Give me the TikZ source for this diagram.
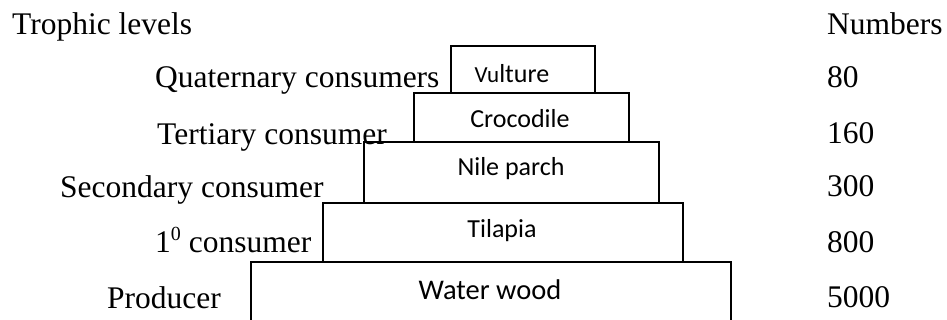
\documentclass[tikz,border=0pt]{standalone}
\usepackage{fontspec}
\setmainfont{Liberation Serif}
\newfontfamily\calibri{Carlito}
\usetikzlibrary{positioning}

\begin{document}
\begin{tikzpicture}[x=1pt, y=-1pt,
    tier/.style={draw, line width=1.9pt, rectangle, inner sep=0pt, anchor=north west},
    level/.style={anchor=base west, inner sep=0pt, font=\fontsize{31.5}{36}\selectfont},
    animal/.style={anchor=base, inner sep=0pt, font=\calibri\fontsize{26}{30}\selectfont}]
    \clip (0,0) rectangle (947,320);
    % the pyramid, top to bottom
    \node[tier, minimum width=144, minimum height=47] (vulture) at (450,45) {};
    \node[tier, minimum width=215, minimum height=49] (croc) at (413,92) {};
    \node[tier, minimum width=295, minimum height=61] (perch) at (363,141) {};
    \node[tier, minimum width=360, minimum height=59] (tilapia) at (322,202) {};
    \node[tier, minimum width=480, minimum height=61] (wood) at (250,261) {};
    \node[animal] (vulturetxt) at (512,83) {{\fontsize{23}{27}\selectfont Vu}lture};
    \node[animal] (croctxt) at (520,128) {Crocodile};
    \node[animal] (perchtxt) at (511,176) {Nile parch};
    \node[animal] (tilapiatxt) at (502,238) {Tilapia};
    \node[animal, font=\calibri\fontsize{28.5}{32}\selectfont] (woodtxt) at (490,299) {Water wood};
    % trophic levels
    \node[level] (levels) at (12,35) {Trophic levels};
    \node[level] (quat) at (155,88) {Quaternary consumers};
    \node[level] (tert) at (157,145) {Tertiary consumer};
    \node[level] (sec) at (60,198) {Secondary consumer};
    \node[level] (prim) at (155,253) {1\raisebox{12pt}{\fontsize{20}{22}\selectfont 0} consumer};
    \node[level] (prod) at (107,308) {Producer};
    % numbers
    \node[level] (numbers) at (827,35) {Numbers};
    \node[level] (n80) at (827,88) {80};
    \node[level] (n160) at (827,144) {160};
    \node[level] (n300) at (827,197) {300};
    \node[level] (n800) at (827,252) {800};
    \node[level] (n5000) at (827,307) {5000};
\end{tikzpicture}
\end{document}
